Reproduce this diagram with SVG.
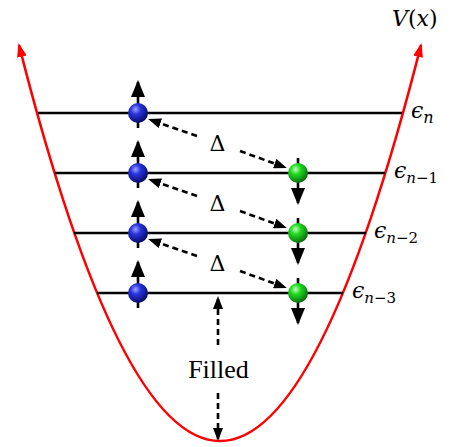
<svg xmlns="http://www.w3.org/2000/svg" width="451" height="447" viewBox="0 0 451 447">
<style>
.lvl{stroke:#000;stroke-width:2.6;fill:none}
.spin{stroke:#000;stroke-width:2.6;fill:none;marker-end:url(#spinHead)}
.dash{stroke:#000;stroke-width:2.6;fill:none;stroke-dasharray:6 4;marker-end:url(#dashHead)}
.lab{font-family:"Liberation Serif","DejaVu Serif",serif;fill:#000}
.math{font-family:"DejaVu Serif",serif;fill:#000}
.it{font-style:italic}
</style>
<defs>
<radialGradient id="gBlue" cx="0.38" cy="0.32" r="0.7">
<stop offset="0" stop-color="#9aa6ff"/>
<stop offset="0.35" stop-color="#2a35e0"/>
<stop offset="1" stop-color="#050a60"/>
</radialGradient>
<radialGradient id="gGreen" cx="0.38" cy="0.32" r="0.7">
<stop offset="0" stop-color="#c8ffc0"/>
<stop offset="0.35" stop-color="#22dd22"/>
<stop offset="1" stop-color="#0a6a0a"/>
</radialGradient>
<marker id="redHead" viewBox="0 0 14 10" refX="12" refY="5" markerWidth="14" markerHeight="10" markerUnits="userSpaceOnUse" orient="auto-start-reverse">
<path d="M0,0 L14,5 L0,10 z" fill="#f00"/>
</marker>
<marker id="spinHead" viewBox="0 0 17 14" refX="15" refY="7" markerWidth="17" markerHeight="14" markerUnits="userSpaceOnUse" orient="auto">
<path d="M0,0 L17,7 L0,14 z" fill="#000"/>
</marker>
<marker id="dashHead" viewBox="0 0 13 10" refX="11" refY="5" markerWidth="13" markerHeight="10" markerUnits="userSpaceOnUse" orient="auto">
<path d="M0,0 L13,5 L0,10 z" fill="#000"/>
</marker>
</defs>

<g id="potential">
<path d="M19,45 Q220,837 421,45" stroke="#f00" stroke-width="2.6" fill="none" marker-start="url(#redHead)" marker-end="url(#redHead)"/>
</g>

<g id="levels">
<line class="lvl" x1="38" y1="113" x2="402" y2="113"/>
<line class="lvl" x1="55" y1="173" x2="385" y2="173"/>
<line class="lvl" x1="74" y1="233" x2="366" y2="233"/>
<line class="lvl" x1="97" y1="293" x2="343" y2="293"/>
</g>

<g id="connectors">
<line class="spin" x1="138" y1="128" x2="138" y2="82"/>
<line class="spin" x1="138" y1="188" x2="138" y2="142"/>
<line class="spin" x1="138" y1="248" x2="138" y2="202"/>
<line class="spin" x1="138" y1="308" x2="138" y2="262"/>
<line class="spin" x1="298" y1="158" x2="298" y2="203"/>
<line class="spin" x1="298" y1="218" x2="298" y2="263"/>
<line class="spin" x1="298" y1="278" x2="298" y2="323"/>
<line class="dash" x1="197" y1="136" x2="150" y2="119.7"/>
<line class="dash" x1="240" y1="151" x2="285" y2="167.3"/>
<line class="dash" x1="197" y1="196" x2="150" y2="179.7"/>
<line class="dash" x1="240" y1="211" x2="285" y2="227.3"/>
<line class="dash" x1="197" y1="256" x2="150" y2="239.7"/>
<line class="dash" x1="240" y1="271" x2="285" y2="287.3"/>
<line class="dash" x1="218" y1="345" x2="218" y2="298"/>
<line class="dash" x1="218" y1="393" x2="218" y2="439"/>
</g>

<g id="electrons-up">
<circle cx="138" cy="113" r="10" fill="url(#gBlue)"/>
<circle cx="138" cy="173" r="10" fill="url(#gBlue)"/>
<circle cx="138" cy="233" r="10" fill="url(#gBlue)"/>
<circle cx="138" cy="293" r="10" fill="url(#gBlue)"/>
</g>
<g id="electrons-down">
<circle cx="298" cy="173" r="10" fill="url(#gGreen)"/>
<circle cx="298" cy="233" r="10" fill="url(#gGreen)"/>
<circle cx="298" cy="293" r="10" fill="url(#gGreen)"/>
</g>

<g id="labels">
<text class="math" x="217.5" y="151" font-size="22" text-anchor="middle">Δ</text>
<text class="math" x="217.5" y="211" font-size="22" text-anchor="middle">Δ</text>
<text class="math" x="217.5" y="271" font-size="22" text-anchor="middle">Δ</text>
<text class="lab" x="218.5" y="378" font-size="26" text-anchor="middle">Filled</text>
<text class="math" x="392" y="26" font-size="22"><tspan class="it">V</tspan>(<tspan class="it">x</tspan>)</text>
<text class="math" x="411" y="118" font-size="22"><tspan class="it">ϵ</tspan><tspan class="it" font-size="16" dy="5">n</tspan></text>
<text class="math" x="394" y="178" font-size="22"><tspan class="it">ϵ</tspan><tspan font-size="15" dy="5"><tspan class="it">n</tspan>−1</tspan></text>
<text class="math" x="374" y="238" font-size="22"><tspan class="it">ϵ</tspan><tspan font-size="15" dy="5"><tspan class="it">n</tspan>−2</tspan></text>
<text class="math" x="352" y="298" font-size="22"><tspan class="it">ϵ</tspan><tspan font-size="15" dy="5"><tspan class="it">n</tspan>−3</tspan></text>
</g>
</svg>
